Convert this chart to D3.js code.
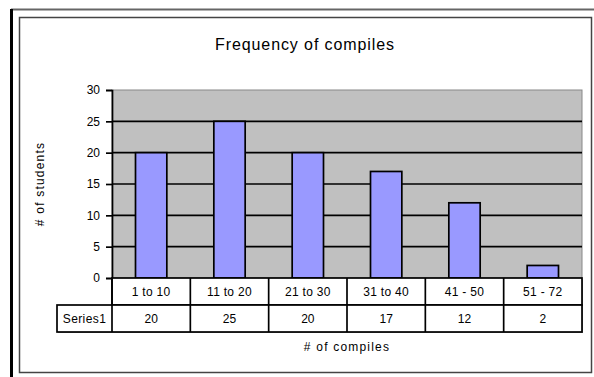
<!DOCTYPE html>
<html>
<head>
<meta charset="utf-8">
<script src="https://cdn.jsdelivr.net/npm/d3@7"></script>
<style>
html,body{margin:0;padding:0;background:#fff;}
svg{display:block;font-family:"Liberation Sans",Arial,sans-serif;}
</style>
</head>
<body>
<svg id="chart" width="594" height="377"></svg>
<script>
const categories = ["1 to 10", "11 to 20", "21 to 30", "31 to 40", "41 - 50", "51 - 72"];
const seriesName = "Series1";
const values = [20, 25, 20, 17, 12, 2];
const yTicks = [0, 5, 10, 15, 20, 25, 30];
const titleText = "Frequency of compiles";
const xTitle = "# of compiles";
const yTitle = "# of students";

const svg = d3.select("#chart");
const W = 594, H = 377;
const LW = 1.7;

// outer frame
svg.append("line").attr("x1", 11).attr("x2", 594).attr("y1", 9.5).attr("y2", 9.5)
  .attr("stroke", "#666").attr("stroke-width", 2);
svg.append("line").attr("x1", 11.5).attr("x2", 11.5).attr("y1", 9).attr("y2", H)
  .attr("stroke", "#000").attr("stroke-width", 3);
// chart area border
svg.append("rect").attr("x", 19.5).attr("y", 17.5).attr("width", 572).attr("height", 355)
  .attr("fill", "#fff").attr("stroke", "#444").attr("stroke-width", 1.5);

const plot = {left: 112, right: 582, top: 90, bottom: 278};

const x = d3.scaleBand().domain(categories).range([plot.left, plot.right]).paddingInner(0).paddingOuter(0);
const y = d3.scaleLinear().domain([0, 30]).range([plot.bottom, plot.top]);

// title
svg.append("text").attr("x", 305).attr("y", 50).attr("text-anchor", "middle")
  .attr("font-size", 16).attr("letter-spacing", 0.9).attr("fill", "#000").text(titleText);

// plot background
svg.append("rect").attr("x", plot.left).attr("y", plot.top)
  .attr("width", plot.right - plot.left).attr("height", plot.bottom - plot.top)
  .attr("fill", "#c0c0c0").attr("stroke", "#888").attr("stroke-width", 1);

// gridlines
svg.append("g").selectAll("line").data(yTicks.filter(d => d > 0 && d < 30)).join("line")
  .attr("x1", plot.left).attr("x2", plot.right)
  .attr("y1", d => y(d)).attr("y2", d => y(d))
  .attr("stroke", "#000").attr("stroke-width", LW);

// bars (gap width 150%)
const bw = x.bandwidth() / 2.5;
svg.append("g").selectAll("rect").data(values).join("rect")
  .attr("x", (d, i) => x(categories[i]) + (x.bandwidth() - bw) / 2)
  .attr("y", d => y(d))
  .attr("width", bw)
  .attr("height", d => y(0) - y(d))
  .attr("fill", "#9999ff").attr("stroke", "#000").attr("stroke-width", LW);

// y axis
const yAxis = d3.axisLeft(y).tickValues(yTicks).tickSize(6).tickPadding(6);
const ga = svg.append("g").attr("transform", `translate(${plot.left},0)`).call(yAxis);
ga.select(".domain").attr("stroke", "#000").attr("stroke-width", LW);
ga.selectAll(".tick line").attr("stroke", "#000").attr("stroke-width", LW);
ga.selectAll(".tick text").attr("font-size", 12).attr("fill", "#000")
  .attr("font-family", "'Liberation Sans',Arial,sans-serif");

// y title
svg.append("text").attr("transform", `translate(44,184) rotate(-90)`)
  .attr("text-anchor", "middle").attr("font-size", 12).attr("letter-spacing", 1.2)
  .attr("fill", "#000").text(yTitle);

// data table
const row1Top = plot.bottom, row1Bot = 305, row2Bot = 332;
const tbl = svg.append("g");
// shadow
tbl.append("rect").attr("x", 58).attr("y", row1Bot + 1).attr("width", plot.right - 57).attr("height", row2Bot - row1Bot)
  .attr("fill", "#999");
tbl.append("rect").attr("x", plot.left + 1).attr("y", row1Top + 1).attr("width", plot.right - plot.left).attr("height", row1Bot - row1Top)
  .attr("fill", "#999");
// category row
tbl.append("rect").attr("x", plot.left).attr("y", row1Top).attr("width", plot.right - plot.left).attr("height", row1Bot - row1Top)
  .attr("fill", "#fff").attr("stroke", "#000").attr("stroke-width", LW);
// value row
tbl.append("rect").attr("x", 57).attr("y", row1Bot).attr("width", plot.right - 57).attr("height", row2Bot - row1Bot)
  .attr("fill", "#fff").attr("stroke", "#000").attr("stroke-width", LW);
tbl.append("line").attr("x1", plot.left).attr("x2", plot.left).attr("y1", row1Top).attr("y2", row2Bot)
  .attr("stroke", "#000").attr("stroke-width", LW);
tbl.selectAll("line.sep").data(categories.slice(1)).join("line").attr("class", "sep")
  .attr("x1", d => x(d)).attr("x2", d => x(d)).attr("y1", row1Top).attr("y2", row2Bot)
  .attr("stroke", "#000").attr("stroke-width", LW);
tbl.selectAll("text.cat").data(categories).join("text").attr("class", "cat")
  .attr("x", d => x(d) + x.bandwidth() / 2).attr("y", (row1Top + row1Bot) / 2 + 4.5)
  .attr("text-anchor", "middle").attr("font-size", 12).attr("letter-spacing", 0.3)
  .attr("fill", "#000").text(d => d);
tbl.selectAll("text.val").data(values).join("text").attr("class", "val")
  .attr("x", (d, i) => x(categories[i]) + x.bandwidth() / 2).attr("y", (row1Bot + row2Bot) / 2 + 4.5)
  .attr("text-anchor", "middle").attr("font-size", 12).attr("fill", "#000").text(d => d);
tbl.append("text").attr("x", 84.5).attr("y", (row1Bot + row2Bot) / 2 + 4.5)
  .attr("text-anchor", "middle").attr("font-size", 12).attr("letter-spacing", 0.4)
  .attr("fill", "#000").text(seriesName);

// x title
svg.append("text").attr("x", 347).attr("y", 351).attr("text-anchor", "middle")
  .attr("font-size", 12).attr("letter-spacing", 1.2).attr("fill", "#000").text(xTitle);
</script>
</body>
</html>
